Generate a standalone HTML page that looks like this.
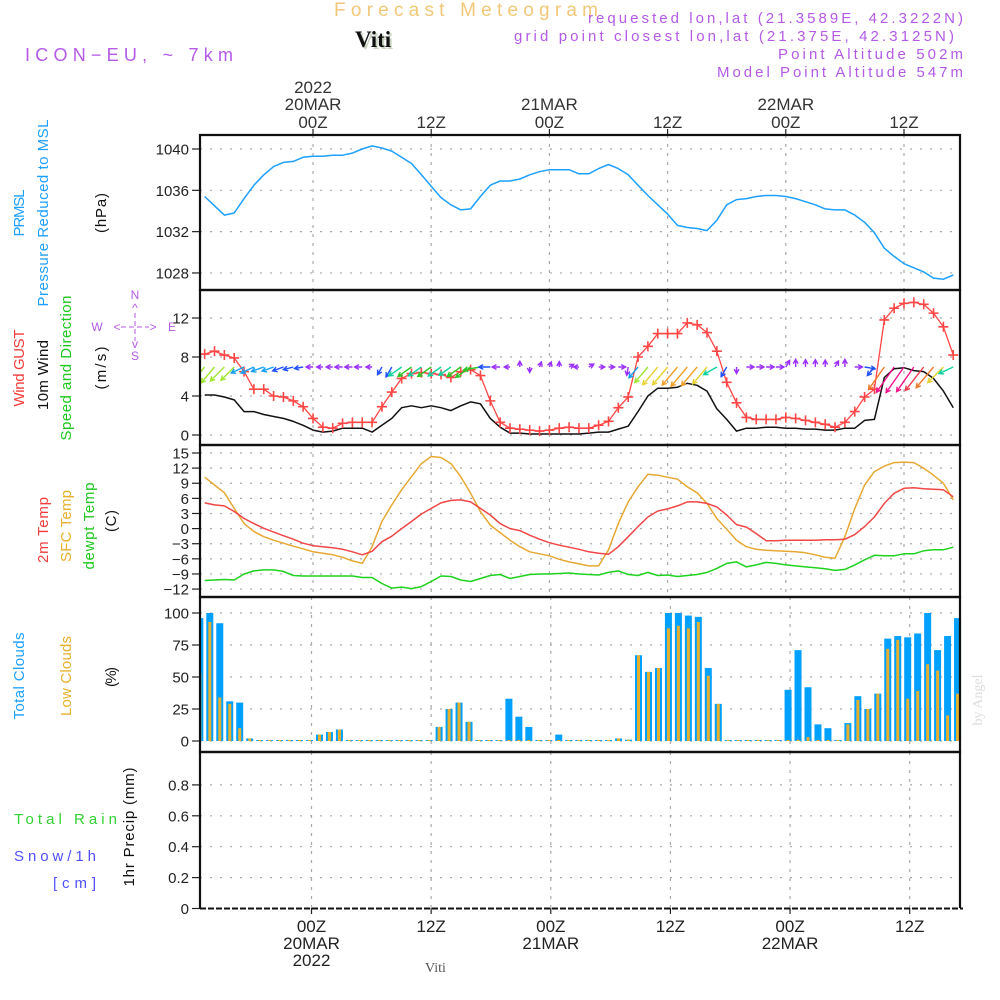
<!DOCTYPE html>
<html><head><meta charset="utf-8"><title>Forecast Meteogram - Viti</title>
<style>
html,body{margin:0;padding:0;background:#fff;}
svg{display:block;font-family:"Liberation Sans",sans-serif;}
</style></head>
<body>
<svg id="chart" width="1000" height="1000" viewBox="0 0 1000 1000" xmlns="http://www.w3.org/2000/svg">
<defs>
<clipPath id="clipTop"><rect x="200" y="135" width="760" height="465"/></clipPath>
<clipPath id="clipBot"><rect x="200" y="597" width="763" height="312"/></clipPath>
</defs>
<g>
<text x="334" y="16" font-size="19" fill="#f2c878" textLength="264" lengthAdjust="spacing">Forecast Meteogram</text>
<text x="357" y="49" font-size="23" font-weight="bold" font-family="Liberation Serif, serif" fill="#c8d4c0">Viti</text>
<text x="355" y="47" font-size="23" font-weight="bold" font-family="Liberation Serif, serif" fill="#111">Viti</text>
<text x="25" y="61" font-size="18" fill="#b45ae6" textLength="208" lengthAdjust="spacing">ICON−EU,  ~  7km</text>
<text x="588" y="23" font-size="15" fill="#b45ae6" textLength="375" lengthAdjust="spacing">requested lon,lat (21.3589E, 42.3222N)</text>
<text x="514" y="41" font-size="15" fill="#b45ae6" textLength="440" lengthAdjust="spacing">grid point closest lon,lat (21.375E, 42.3125N)</text>
<text x="778" y="59" font-size="15" fill="#b45ae6" textLength="185" lengthAdjust="spacing">Point Altitude 502m</text>
<text x="717" y="77" font-size="15" fill="#b45ae6" textLength="246" lengthAdjust="spacing">Model Point Altitude 547m</text>
</g>
<g font-size="15">
<text transform="translate(24,213) rotate(-90)" text-anchor="middle" fill="#1ea0ff" textLength="47">PRMSL</text>
<text transform="translate(48,213) rotate(-90)" text-anchor="middle" fill="#1ea0ff" textLength="187">Pressure Reduced to MSL</text>
<text transform="translate(106,213) rotate(-90)" text-anchor="middle" fill="#111" textLength="40">(hPa)</text>
<text transform="translate(24,368) rotate(-90)" text-anchor="middle" fill="#f03c3c" textLength="77">Wind GUST</text>
<text transform="translate(48,375) rotate(-90)" text-anchor="middle" fill="#111" textLength="70">10m Wind</text>
<text transform="translate(71,368) rotate(-90)" text-anchor="middle" fill="#1ec81e" textLength="145">Speed and Direction</text>
<text transform="translate(106,368) rotate(-90)" text-anchor="middle" fill="#111" textLength="43">(m/s)</text>
<text transform="translate(48,530) rotate(-90)" text-anchor="middle" fill="#f03c3c" textLength="66">2m Temp</text>
<text transform="translate(71,526) rotate(-90)" text-anchor="middle" fill="#e6af2d" textLength="72">SFC Temp</text>
<text transform="translate(94,526) rotate(-90)" text-anchor="middle" fill="#1ec81e" textLength="87">dewpt Temp</text>
<text transform="translate(116,521) rotate(-90)" text-anchor="middle" fill="#111" textLength="22">(C)</text>
<text transform="translate(24,676) rotate(-90)" text-anchor="middle" fill="#1ea0ff" textLength="87">Total Clouds</text>
<text transform="translate(71,676) rotate(-90)" text-anchor="middle" fill="#e6af2d" textLength="80">Low Clouds</text>
<text transform="translate(116,677) rotate(-90)" text-anchor="middle" fill="#111" textLength="20">(%)</text>
<text transform="translate(134,827) rotate(-90)" text-anchor="middle" fill="#111" textLength="119">1hr Precip (mm)</text>
<text x="14" y="824" fill="#32d232" textLength="103" lengthAdjust="spacing">Total   Rain</text>
<text x="14" y="861" fill="#5050ff" textLength="82" lengthAdjust="spacing">Snow/1h</text>
<text x="53" y="888" fill="#5050ff" textLength="43" lengthAdjust="spacing">[cm]</text>
</g>
<g fill="#b45ae6" font-size="12" text-anchor="middle">
<text x="135" y="299">N</text><text x="135" y="312">^</text>
<text x="97" y="331">W</text><text x="172" y="331">E</text>
<text x="135" y="348">v</text><text x="135" y="360">S</text>
<text x="117" y="331">&lt;</text><text x="153" y="331">&gt;</text>
<line x1="121" y1="327" x2="149" y2="327" stroke="#b45ae6" stroke-width="1" stroke-dasharray="5,3"/>
<line x1="135" y1="313" x2="135" y2="341" stroke="#b45ae6" stroke-width="1" stroke-dasharray="5,3"/>
</g>
<text transform="translate(982,700) rotate(-90)" text-anchor="middle" font-family="Liberation Serif, serif" font-size="14" fill="#dcdcdc">by Angel</text>
<text x="425" y="972" font-family="Liberation Serif, serif" font-size="14" fill="#555">Viti</text>
<g id="plot"></g>
</svg>
<script>
// ---- data (hourly, t = -11 .. 65 hours from 00Z 20MAR2022) ----
const hourStart = -11;
const pressure = [1035.4,1034.5,1033.6,1033.8,1035.2,1036.5,1037.5,1038.3,1038.7,1038.8,1039.2,1039.3,
1039.3,1039.4,1039.4,1039.6,1040.0,1040.3,1040.1,1039.8,1039.2,1038.6,1037.5,1036.4,
1035.3,1034.6,1034.1,1034.2,1035.4,1036.5,1036.9,1036.9,1037.1,1037.5,1037.8,1038.0,
1038.0,1038.0,1037.6,1037.6,1038.1,1038.5,1038.1,1037.5,1036.5,1035.5,1034.6,1033.7,
1032.6,1032.4,1032.3,1032.1,1033.1,1034.6,1035.1,1035.2,1035.4,1035.5,1035.5,1035.4,
1035.2,1034.9,1034.6,1034.2,1034.1,1034.1,1033.6,1032.9,1031.9,1030.4,1029.6,1028.9,
1028.5,1028.1,1027.5,1027.4,1027.8];
const gust = [8.3,8.6,8.2,7.9,6.5,4.7,4.7,4.0,3.9,3.5,2.9,1.7,
0.8,0.7,1.2,1.3,1.3,1.3,2.9,4.4,5.8,6.3,6.4,6.3,
6.2,5.9,6.5,6.7,6.1,3.5,1.3,0.7,0.6,0.5,0.4,0.5,
0.7,0.8,0.7,0.7,1.0,1.4,2.8,3.9,8.0,9.1,10.4,10.4,
10.4,11.5,11.3,10.5,8.6,5.4,3.3,1.8,1.6,1.6,1.6,1.8,
1.7,1.5,1.3,1.1,0.8,1.3,2.4,3.9,4.7,11.8,13.0,13.5,
13.6,13.4,12.5,11.1,8.2];
const windSpeed = [4.1,4.1,3.9,3.6,2.4,2.4,2.1,1.9,1.7,1.4,1.0,0.5,
0.3,0.4,0.7,0.7,0.7,0.3,1.0,1.7,2.8,3.0,2.8,3.0,
2.8,2.5,3.0,3.4,3.2,1.7,0.8,0.2,0.2,0.1,0.1,0.1,
0.1,0.1,0.1,0.2,0.3,0.3,0.6,0.9,2.4,4.0,4.8,4.8,
4.9,5.3,5.1,4.5,2.7,1.6,0.4,0.7,0.7,0.8,0.8,0.7,
0.7,0.6,0.6,0.5,0.5,0.7,0.7,1.5,1.6,5.9,6.8,6.9,
6.6,6.5,5.8,4.5,2.8];
const windDirFrom = [40,40,45,45,65,65,70,70,70,75,80,90,
90,90,90,90,90,90,30,30,55,55,55,55,
55,55,55,55,80,90,90,90,180,0,200,200,
180,240,90,240,270,270,270,10,40,40,40,40,
40,40,40,40,60,30,0,270,270,270,270,210,
180,180,180,180,210,180,270,280,40,35,35,35,
35,38,40,45,65];
const temp2m = [5.1,4.7,4.5,3.4,2.0,1.0,0.05,-0.7,-1.4,-2.1,-2.9,-3.4,
-3.6,-3.8,-4.1,-4.6,-5.2,-4.5,-2.6,-1.5,0.0,1.4,2.9,4.0,
5.1,5.6,5.7,5.3,4.0,2.7,1.0,0.0,-0.4,-1.3,-2.1,-2.8,
-3.3,-3.7,-4.1,-4.6,-4.9,-5.1,-3.6,-1.6,0.4,2.3,3.5,3.9,
4.5,5.3,5.3,5.0,4.3,2.7,0.8,0.3,-1.0,-2.4,-2.4,-2.3,
-2.3,-2.3,-2.3,-2.2,-2.2,-2.1,-1.2,0.4,2.3,5.0,7.0,8.0,
8.1,7.9,7.8,7.7,6.3];
const tempSfc = [10.2,8.65,7.1,4.0,1.0,-0.6,-1.6,-2.3,-2.9,-3.5,-4.0,-4.6,
-4.9,-5.2,-5.7,-6.4,-6.9,-3.6,1.4,4.7,7.7,10.3,12.9,14.3,
14.1,12.9,10.3,7.0,3.4,0.7,-0.8,-2.3,-3.6,-4.6,-5.0,-5.4,
-6.1,-6.6,-7.0,-7.4,-7.4,-4.2,1.0,5.3,8.3,10.8,10.6,10.2,
9.8,8.3,7.1,5.0,2.0,-0.1,-2.3,-3.6,-4.1,-4.3,-4.4,-4.5,
-4.6,-4.8,-5.2,-5.7,-5.9,-1.6,4.0,8.65,11.3,12.4,13.1,13.2,
13.1,12.0,10.6,9.0,5.7];
const dewpt = [-10.3,-10.2,-10.1,-10.2,-9.0,-8.4,-8.2,-8.2,-8.5,-9.3,-9.4,-9.4,
-9.4,-9.4,-9.4,-9.4,-9.7,-9.7,-10.9,-11.8,-11.6,-11.9,-11.5,-10.5,
-9.4,-9.5,-10.2,-10.5,-9.9,-9.3,-9.1,-9.9,-9.5,-9.1,-9.0,-9.0,
-8.9,-8.8,-9.0,-9.1,-9.2,-8.7,-8.4,-9.1,-9.3,-8.7,-9.3,-9.2,
-9.5,-9.3,-9.1,-8.7,-7.9,-6.9,-6.6,-7.6,-7.2,-6.7,-6.9,-7.2,
-7.4,-7.6,-7.75,-7.95,-8.3,-8.1,-7.2,-6.2,-5.3,-5.4,-5.4,-5.0,
-5.0,-4.4,-4.2,-4.2,-3.7];
// clouds: hourly bars, t = -11 .. 65
const cloudStart = -11;
const totalClouds = [96,100,92,31,30,2,0,0,0,0,0,0,5,7,9,0,0,0,0,0,0,0,0,0,11,25,30,15,0,0,0,33,19,11,0,0,5,0,0,0,0,0,2,1,67,54,57,100,100,98,97,57,29,0,0,0,0,0,0,40,71,42,13,10,0.5,14,35,25,37,80,82,81,84,100,71,82,96];
const lowClouds = [53,93,34,29,10,2,0,0,0,0,0,0,5,7,9,0,0,0,0,0,0,0,0,0,11,25,30,15,0,0,0,0,0,0,0,0,0,0,0,0,0,0,2,1,67,54,57,88,90,88,93,51,29,0,0,0,0,0,0,0,1,3,0.5,0.5,0.5,13,32,25,37,72,79,33,39,60,55,20,37];
const precip = [];
// ticks
const pressTicks = [1028,1032,1036,1040];
const windTicks = [0,4,8,12];
const tempTicks = [-12,-9,-6,-3,0,3,6,9,12,15];
const cloudTicks = [0,25,50,75,100];
const precipTicks = [0,0.2,0.4,0.6,0.8];
const timeTicks = [0,12,24,36,48,60];
const timeLabels = ["00Z","12Z","00Z","12Z","00Z","12Z"];
const dateLabels = ["20MAR","","21MAR","","22MAR",""];
const yearLabels = ["2022","","","","",""];

// ---- scales ----
const X0=200, X1=960;
const xT = t => 313 + t*9.85;
const xB = t => 311.5 + t*9.97;
const yP = v => 149 + (1040-v)*10.33;
const yW = v => 435 - v*9.75;
const yTm = v => 528.6 - v*5.04;
const yC = v => 741 - v*1.28;
const yR = v => 908.5 - v*154.5;

const NS='http://www.w3.org/2000/svg';
const plot=document.getElementById('plot');
function mk(tag, attrs, parent){const e=document.createElementNS(NS,tag);for(const k in attrs)e.setAttribute(k,attrs[k]);(parent||plot).appendChild(e);return e;}

const panels=[
 {name:'pressure-panel',y0:135,y1:290,ticks:pressTicks,ys:yP,xs:xT,fmt:v=>String(v)},
 {name:'wind-panel',y0:290,y1:445,ticks:windTicks,ys:yW,xs:xT,fmt:v=>String(v)},
 {name:'temperature-panel',y0:445,y1:597,ticks:tempTicks,ys:yTm,xs:xT,fmt:v=>v<0?'−'+(-v):String(v)},
 {name:'clouds-panel',y0:597,y1:752,ticks:cloudTicks,ys:yC,xs:xB,fmt:v=>String(v)},
 {name:'precip-panel',y0:752,y1:908,ticks:precipTicks,ys:yR,xs:xB,fmt:v=>v===0?'0':v.toFixed(1)}
];
panels.forEach(p=>{
  const g=mk('g',{});
  
  
  p.ticks.forEach(v=>{
    const y=p.ys(v);
    if(y>p.y0+3 && y<p.y1-3){
      const gl=mk('line',{x1:X0,x2:X1,y1:y,y2:y,stroke:'#aaa','stroke-width':1.2,'stroke-dasharray':'2,8'},g);
      
      
    }
    const tk=mk('line',{x1:192,x2:X0,y1:y,y2:y,stroke:'#222','stroke-width':1.2},g);
    
    
    const tl=mk('text',{x:189,y:y+5.5,'text-anchor':'end','font-size':15,fill:'#222'},g);
    tl.textContent=p.fmt(v);
    
    
  });
  timeTicks.forEach(t=>{
    const x=p.xs(t);
    const vl=mk('line',{x1:x,x2:x,y1:p.y0,y2:p.y1,stroke:'#aaa','stroke-width':1.2,'stroke-dasharray':'3,6'},g);
    
    
  });
});

// top axis
timeTicks.forEach((t,i)=>{
  const x=xT(t);
  mk('line',{x1:x,x2:x,y1:129,y2:135,stroke:'#222','stroke-width':1.2});
  const a=mk('text',{x:x,y:128,'text-anchor':'middle','font-size':17,fill:'#333'});a.textContent=timeLabels[i];
  
  
  if(dateLabels[i]){const b=mk('text',{x:x,y:110,'text-anchor':'middle','font-size':17,fill:'#333'});b.textContent=dateLabels[i];
    
    }
  if(yearLabels[i]){const c=mk('text',{x:x,y:93,'text-anchor':'middle','font-size':17,fill:'#333'});c.textContent=yearLabels[i];
    
    }
});
// bottom axis
timeTicks.forEach((t,i)=>{
  const x=xB(t);
  mk('line',{x1:x,x2:x,y1:908,y2:914,stroke:'#222','stroke-width':1.2});
  const a=mk('text',{x:x,y:932,'text-anchor':'middle','font-size':17,fill:'#222'});a.textContent=timeLabels[i];
  
  
  if(dateLabels[i]){const b=mk('text',{x:x,y:949,'text-anchor':'middle','font-size':17,fill:'#222'});b.textContent=dateLabels[i];
    
    }
  if(yearLabels[i]){const c=mk('text',{x:x,y:966,'text-anchor':'middle','font-size':17,fill:'#222'});c.textContent=yearLabels[i];
    
    }
});

const gTop=mk('g',{'clip-path':'url(#clipTop)'});
const gBot=mk('g',{'clip-path':'url(#clipBot)'});
function line(arr,ys,color,w,name,parent){
  const pts=arr.map((v,i)=>xT(hourStart+i).toFixed(1)+','+ys(v).toFixed(1)).join(' ');
  const pl=mk('polyline',{points:pts,fill:'none',stroke:color,'stroke-width':w,'stroke-linejoin':'round'},parent);
  
  
}
line(pressure,yP,'#1ea0ff',1.5,'pressure-line',gTop);
line(windSpeed,yW,'#111',1.5,'wind-speed-line',gTop);
line(gust,yW,'#ff4646',1.3,'wind-gust-line',gTop);
gust.forEach((v,i)=>{
  const x=xT(hourStart+i), y=yW(v);
  const m=mk('path',{d:`M${x-5},${y}H${x+5}M${x},${y-5}V${y+5}`,stroke:'#ff4646','stroke-width':1.6},gTop);
  
  
});
function arrowColor(s){
  if(s<1) return '#9b30ff';
  if(s<1.8) return '#1e50ff';
  if(s<2.5) return '#14a0f0';
  if(s<3.0) return '#10d2a0';
  if(s<3.6) return '#28c828';
  if(s<4.3) return '#a0e632';
  if(s<4.9) return '#e6d232';
  if(s<5.5) return '#f0a028';
  if(s<6.2) return '#f07828';
  if(s<6.6) return '#f03c50';
  return '#f0148c';
}
windDirFrom.forEach((d,i)=>{
  const s=windSpeed[i];
  const x=xT(hourStart+i), y=367;
  const r=d*Math.PI/180, len=5+3.8*s;
  const dx=-Math.sin(r), dy=Math.cos(r);
  const x2=x+dx*len, y2=y+dy*len;
  const hx=-dx*5, hy=-dy*5;
  const c=Math.cos(0.5), sn=Math.sin(0.5);
  const a1x=x2+hx*c-hy*sn, a1y=y2+hx*sn+hy*c;
  const a2x=x2+hx*c+hy*sn, a2y=y2-hx*sn+hy*c;
  const col=arrowColor(s);
  const ar=mk('path',{d:`M${x},${y}L${x2},${y2}M${a1x},${a1y}L${x2},${y2}L${a2x},${a2y}`,stroke:col,'stroke-width':1.4,fill:'none'},gTop);
  
  
});
line(tempSfc,yTm,'#e6a832',1.5,'sfc-temp-line',gTop);
line(temp2m,yTm,'#f04646',1.5,'temp-2m-line',gTop);
line(dewpt,yTm,'#1ed21e',1.5,'dewpt-line',gTop);

totalClouds.forEach((v,i)=>{
  const t=cloudStart+i, x=xB(t)-2;
  const h=Math.max(v*1.28,1);
  const b=mk('rect',{x:x-3.5,y:741-h,width:7,height:h,fill:'#00a0ff'},gBot);
  
  
  const lv=lowClouds[i], lh=Math.max(lv*1.28,1);
  const c=mk('rect',{x:x-1.5,y:741-lh,width:3,height:lh,fill:'#e6af2d'},gBot);
  
  
});
const pz=mk('line',{x1:200,x2:963,y1:yR(0),y2:yR(0),stroke:'#111','stroke-width':2,'stroke-dasharray':'6,2'});



// frames
panels.forEach((p,i)=>{
  const last=i===panels.length-1;
  const fr=mk('path',{d:last?`M${X0},${p.y1}V${p.y0}H${X1}V${p.y1}`:`M${X0},${p.y0}H${X1}V${p.y1}H${X0}Z`,fill:'none',stroke:'#111','stroke-width':2.2});
  
  
});
</script>
</body></html>
